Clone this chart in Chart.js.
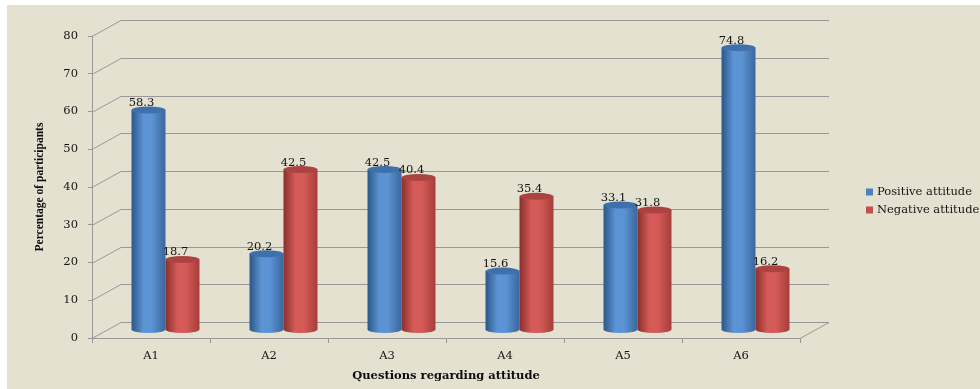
<!DOCTYPE html>
<html>
<head>
<meta charset="utf-8">
<script src="https://cdn.jsdelivr.net/npm/chart.js@4.4.0/dist/chart.umd.min.js"></script>
<style>
  html, body { margin: 0; padding: 0; background: #ffffff; }
  #wrap { width: 980px; height: 389px; }
</style>
</head>
<body>
<div id="wrap"><canvas id="canvasAttitude" width="980" height="389"></canvas></div>
<script>
"use strict";

var questions = ['A1', 'A2', 'A3', 'A4', 'A5', 'A6'];
var positiveAttitude = [58.3, 20.2, 42.5, 15.6, 33.1, 74.8];
var negativeAttitude = [18.7, 42.5, 40.4, 35.4, 31.8, 16.2];
var seriesLabels = ['Positive attitude', 'Negative attitude'];
var yTicks = [0, 10, 20, 30, 40, 50, 60, 70, 80];

var wideSerif = "'DejaVu Serif', serif";
var narrowSerif = "'Liberation Serif', 'Times New Roman', serif";
var textColor = '#141414';
var depthX = 29, depthY = -16;
var gridColor = '#989898';

// body gradient stops for each series: dark edge, light face, dark edge
var cylinderColors = [
    { edge: '#2c5787', light: '#5b93d4', right: '#3a679c', top: '#3f70ab' },
    { edge: '#8a2f2c', light: '#d45b57', right: '#a63d3a', top: '#ab4441' }
];

var backdropPlugin = {
    id: 'backdrop',
    beforeDraw: function (chart) {
        var ctx = chart.ctx;
        ctx.save();
        ctx.fillStyle = '#ffffff';
        ctx.fillRect(0, 0, chart.width, chart.height);
        ctx.fillStyle = '#e4e1d1';
        ctx.fillRect(7, 5, chart.width - 7, chart.height - 5);
        ctx.restore();
    }
};

var wallPlugin = {
    id: 'wall',
    beforeDatasetsDraw: function (chart) {
        var ctx = chart.ctx;
        var area = chart.chartArea;
        var y = chart.scales.y;
        ctx.save();
        ctx.lineWidth = 1;
        ctx.strokeStyle = gridColor;
        yTicks.forEach(function (v) {
            var py = Math.round(y.getPixelForValue(v)) + 0.5;
            ctx.beginPath();
            ctx.moveTo(area.left, py);
            ctx.lineTo(area.left + depthX, py + depthY);
            ctx.lineTo(area.right + depthX, py + depthY);
            ctx.stroke();
        });
        // floor right edge
        var py0 = Math.round(y.getPixelForValue(0)) + 0.5;
        ctx.beginPath();
        ctx.moveTo(area.right, py0);
        ctx.lineTo(area.right + depthX, py0 + depthY);
        ctx.stroke();
        ctx.restore();
    }
};

var cylinderPlugin = {
    id: 'cylinders',
    afterDatasetsDraw: function (chart) {
        var ctx = chart.ctx;
        var dx = depthX / 2, dy = depthY / 2;
        chart.data.datasets.forEach(function (ds, di) {
            var meta = chart.getDatasetMeta(di);
            var c = cylinderColors[di];
            meta.data.forEach(function (bar, i) {
                var p = bar.getProps(['x', 'y', 'base', 'width'], true);
                var left = p.x - p.width / 2 + dx;
                var right = p.x + p.width / 2 + dx;
                var cx = (left + right) / 2;
                var rx = p.width / 2;
                var ry = 3.5;
                var top = p.y + dy;
                var bottom = p.base + dy;

                var g = ctx.createLinearGradient(left, 0, right, 0);
                g.addColorStop(0, c.edge);
                g.addColorStop(0.35, c.light);
                g.addColorStop(0.6, c.light);
                g.addColorStop(1, c.right);

                ctx.save();
                ctx.fillStyle = g;
                ctx.beginPath();
                ctx.moveTo(left, top);
                ctx.lineTo(left, bottom);
                ctx.ellipse(cx, bottom, rx, ry, 0, Math.PI, 0, true);
                ctx.lineTo(right, top);
                ctx.closePath();
                ctx.fill();

                ctx.fillStyle = c.top;
                ctx.beginPath();
                ctx.ellipse(cx, top, rx, ry, 0, 0, Math.PI * 2);
                ctx.fill();

                ctx.fillStyle = textColor;
                ctx.font = '11.5px ' + wideSerif;
                ctx.textAlign = 'center';
                ctx.textBaseline = 'alphabetic';
                ctx.fillText(ds.data[i].toFixed(1), cx - 7, top - 4);
                ctx.restore();
            });
        });
    }
};

var legendPlugin = {
    id: 'sideLegend',
    afterDraw: function (chart) {
        var ctx = chart.ctx;
        ctx.save();
        ctx.font = '11.5px ' + wideSerif;
        ctx.textBaseline = 'middle';
        ctx.textAlign = 'left';
        chart.data.datasets.forEach(function (ds, di) {
            var yy = 192 + di * 18;
            ctx.fillStyle = ds.legendColor;
            ctx.fillRect(866, yy - 3.5, 7, 7);
            ctx.fillStyle = textColor;
            ctx.fillText(ds.label, 877, yy + 0.5);
        });
        ctx.restore();
    }
};

const context = document.getElementById('canvasAttitude');
const attitudeChart = new Chart(context, {
    type: 'bar',
    data: {
        labels: questions,
        datasets: [{
            label: seriesLabels[0],
            data: positiveAttitude,
            backgroundColor: 'rgba(0,0,0,0)',
            legendColor: '#4f81bd'
        }, {
            label: seriesLabels[1],
            data: negativeAttitude,
            backgroundColor: 'rgba(0,0,0,0)',
            legendColor: '#c0504d'
        }]
    },
    options: {
        responsive: false,
        animation: false,
        layout: { padding: { top: 36, right: 180, left: 0, bottom: 0 } },
        categoryPercentage: 0.576,
        barPercentage: 1,
        plugins: {
            legend: { display: false },
            tooltip: { enabled: false }
        },
        scales: {
            x: {
                afterFit: function (scale) { scale.height = 51; },
                border: { display: true, color: gridColor },
                grid: { display: true, drawOnChartArea: false, color: gridColor, tickLength: 5, offset: true },
                ticks: { color: textColor, font: { family: wideSerif, size: 11.5 }, padding: 6 },
                title: {
                    display: true,
                    text: 'Questions regarding attitude',
                    color: '#0d0d0d',
                    font: { family: wideSerif, size: 11.5, weight: 'bold' },
                    padding: { top: 0, bottom: 6 }
                }
            },
            y: {
                min: 0,
                max: 80,
                afterFit: function (scale) { scale.width = 92; },
                border: { display: true, color: gridColor },
                grid: { display: true, drawOnChartArea: false, color: gridColor, tickLength: 4 },
                ticks: { stepSize: 10, color: textColor, font: { family: wideSerif, size: 11.5 }, padding: 10 },
                title: {
                    display: true,
                    text: 'Percentage of participants',
                    color: '#0d0d0d',
                    font: { family: narrowSerif, size: 11.5, weight: 'bold' },
                    padding: { top: 33, bottom: 0 }
                }
            }
        }
    },
    plugins: [backdropPlugin, wallPlugin, cylinderPlugin, legendPlugin]
});
</script>
</body>
</html>
